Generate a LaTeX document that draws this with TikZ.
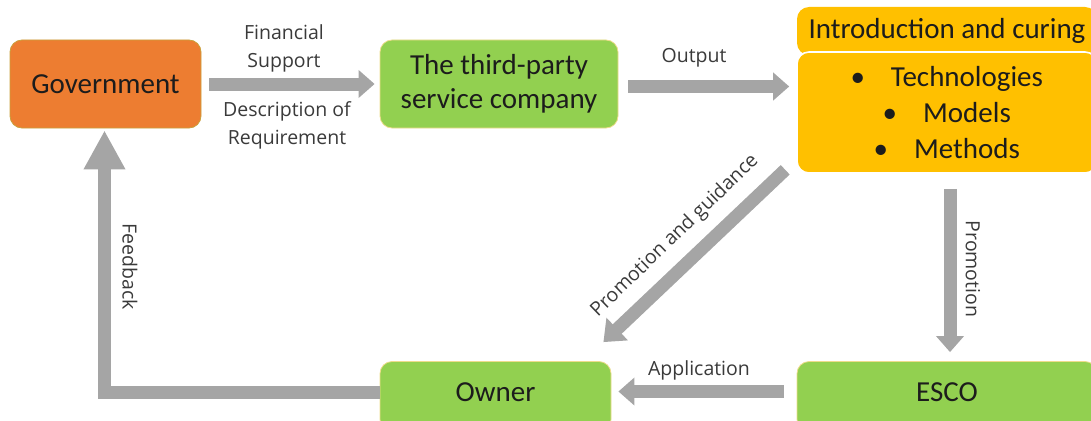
\documentclass[tikz,border=0pt]{standalone}
\usepackage{fontspec}
\setmainfont{Carlito}
\newfontfamily\labelfont{Open Sans}
\usetikzlibrary{arrows.meta}
\definecolor{govorange}{HTML}{ED7D31}
\definecolor{govedge}{HTML}{C9A13C}
\definecolor{leafgreen}{HTML}{92D050}
\definecolor{leafedge}{HTML}{EEDC8C}
\definecolor{amber}{HTML}{FFC000}
\definecolor{arrowgray}{HTML}{A5A5A5}
\definecolor{labelgray}{HTML}{3A3A3A}
\definecolor{textblack}{HTML}{1C1C1C}
\begin{document}
\begin{tikzpicture}[x=1pt,y=-1pt,
  box/.style={rounded corners=12pt, line width=0.8pt, text=textblack,
    font=\fontsize{29}{34}\selectfont, align=center, inner sep=0pt},
  govbox/.style={box, fill=govorange, draw=govedge},
  greenbox/.style={box, fill=leafgreen, draw=leafedge},
  amberbox/.style={box, fill=amber, draw=white, line width=1.6pt},
  flow/.style={draw=arrowgray, line width=13pt, line join=miter,
    -{Triangle[length=16pt,width=27pt]}},
  diagflow/.style={flow, -{Triangle[length=19pt,width=30pt]}},
  bigflow/.style={flow, -{Triangle[length=39pt,width=39pt]}},
  flowlabel/.style={text=labelgray, font=\labelfont\fontsize{19.5}{28}\selectfont,
    inner sep=0pt, align=center}]
\useasboundingbox (0,0) rectangle (1091,420);
\clip (0,0) rectangle (1091,420);

% boxes
\node[govbox, minimum width=191pt, minimum height=88pt] (gov) at (105.5,84) {Government};
\node[greenbox, minimum width=238pt, minimum height=88pt] (tp) at (499,84)
  {The third-party\\service company};
\node[amberbox, draw=none, minimum width=300pt, minimum height=48pt] (intro) at (947,31)
  {Introduction and curing};
\node[amberbox, minimum width=300pt, minimum height=121pt] (core) at (947,112.5) {};
\node[box, font=\fontsize{29}{36}\selectfont] (corelist) at (967,113)
  {\llap{\textbullet\hspace{26pt}}Technologies\\
   \llap{\textbullet\hspace{26pt}}Models\\
   \llap{\textbullet\hspace{26pt}}Methods};
\node[greenbox, minimum width=300pt, minimum height=70pt,
  text height=18.7pt, text depth=8.7pt] (esco) at (947,396.5) {ESCO};
\node[greenbox, minimum width=231pt, minimum height=70pt,
  text height=18.7pt, text depth=8.7pt] (owner) at (495.5,396.5) {Owner};

% helper points
\coordinate (outEnd) at (tp.east -| core.west);

% connectors
\draw[flow] ([shift={(8,0)}]gov.east) -- ([shift={(-5,0)}]tp.west);
\draw[flow] ([shift={(10,2.5)}]tp.east) -- ([shift={(-7,2.5)}]outEnd);
\draw[diagflow] ([shift={(-11,-4)}]core.south west) -- ([shift={(-8,-19)}]owner.north east);
\draw[flow] ([shift={(3,15)}]core.south) -- ([shift={(3,-9)}]esco.north);
\draw[flow] ([shift={(-13,-5)}]esco.west) -- ([shift={(7,-5)}]owner.east);
\draw[bigflow] ([shift={(0,-4)}]owner.west) -| ([shift={(-1,2)}]gov.south);

% connector labels
\node[flowlabel] (lfin) at (284,48) {Financial\\Support};
\node[flowlabel] (ldesc) at (287,125) {Description of\\Requirement};
\node[flowlabel] (lout) at (694,58) {Output};
\node[flowlabel, rotate=44] (lguide) at (675,236) {Promotion and guidance};
\node[flowlabel, rotate=-90] (lpromo) at (973,269) {Promotion};
\node[flowlabel] (lapp) at (699,370) {Application};
\node[flowlabel, rotate=-90] (lfeed) at (130,267) {Feedback};
\end{tikzpicture}
\end{document}
